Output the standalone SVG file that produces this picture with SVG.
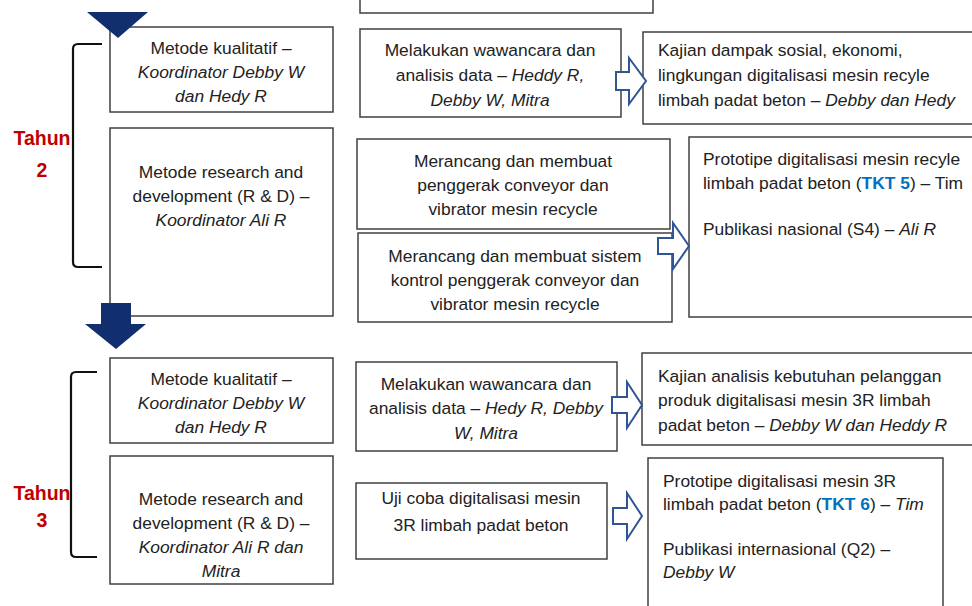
<svg xmlns="http://www.w3.org/2000/svg" width="972" height="606" viewBox="0 0 972 606">
<style>
.box{fill:#fff;stroke:#404040;stroke-width:1.5}
.t{font-family:"Liberation Sans",Arial,sans-serif;font-size:17.4px;fill:#222}
.c{text-anchor:middle}
.i{font-style:italic}
.yr{font-family:"Liberation Sans",Arial,sans-serif;font-size:19.5px;font-weight:bold;fill:#C00000;text-anchor:middle}
.tkt{font-weight:bold;fill:#0070C0}
.hollow{fill:#fff;stroke:#2F5597;stroke-width:2;stroke-linejoin:miter}
.solid{fill:#112F6F}
.br{fill:none;stroke:#111;stroke-width:2.2}
</style>
<rect width="972" height="606" fill="#fff"/>

<g id="top-box">
<path class="box" d="M360,-2 V13 H653 V-2" fill="none"/>
</g>

<g id="y2-kualitatif">
<rect class="box" x="110" y="27" width="223" height="85"/>
<text class="t c" x="221" y="54">Metode kualitatif –</text>
<text class="t c i" x="221" y="78">Koordinator Debby W</text>
<text class="t c i" x="221" y="102">dan Hedy R</text>
</g>

<g id="y2-rnd">
<rect class="box" x="110" y="128" width="223" height="188"/>
<text class="t c" x="221" y="178">Metode research and</text>
<text class="t c" x="221" y="202">development (R &amp; D) –</text>
<text class="t c i" x="221" y="226">Koordinator Ali R</text>
</g>

<g id="y2-wawancara">
<rect class="box" x="360" y="29" width="261" height="88"/>
<text class="t c" x="490" y="56">Melakukan wawancara dan</text>
<text class="t c" x="490" y="81">analisis data – <tspan class="i">Heddy R,</tspan></text>
<text class="t c i" x="490" y="106">Debby W, Mitra</text>
</g>

<g id="y2-kajian">
<rect class="box" x="643" y="32" width="350" height="92"/>
<text class="t" x="658" y="56">Kajian dampak sosial, ekonomi,</text>
<text class="t" x="658" y="81">lingkungan digitalisasi mesin recyle</text>
<text class="t" x="658" y="106">limbah padat beton – <tspan class="i">Debby dan Hedy</tspan></text>
</g>

<g id="y2-penggerak">
<rect class="box" x="357" y="139" width="313" height="90"/>
<text class="t c" x="513" y="167">Merancang dan membuat</text>
<text class="t c" x="513" y="191">penggerak conveyor dan</text>
<text class="t c" x="513" y="215">vibrator mesin recycle</text>
</g>

<g id="y2-kontrol">
<rect class="box" x="358" y="233" width="314" height="89"/>
<text class="t c" x="515" y="262">Merancang dan membuat sistem</text>
<text class="t c" x="515" y="286">kontrol penggerak conveyor dan</text>
<text class="t c" x="515" y="310">vibrator mesin recycle</text>
</g>

<g id="y2-prototipe">
<rect class="box" x="689" y="137" width="310" height="180"/>
<text class="t" x="703" y="165">Prototipe digitalisasi mesin recyle</text>
<text class="t" x="703" y="189">limbah padat beton (<tspan class="tkt">TKT 5</tspan>) – Tim</text>
<text class="t" x="703" y="235">Publikasi nasional (S4) – <tspan class="i">Ali R</tspan></text>
</g>

<g id="y3-kualitatif">
<rect class="box" x="110" y="358" width="223" height="85"/>
<text class="t c" x="221" y="385">Metode kualitatif –</text>
<text class="t c i" x="221" y="409">Koordinator Debby W</text>
<text class="t c i" x="221" y="433">dan Hedy R</text>
</g>

<g id="y3-rnd">
<rect class="box" x="110" y="456" width="223" height="128"/>
<text class="t c" x="221" y="505">Metode research and</text>
<text class="t c" x="221" y="529">development (R &amp; D) –</text>
<text class="t c i" x="221" y="553">Koordinator Ali R dan</text>
<text class="t c i" x="221" y="577">Mitra</text>
</g>

<g id="y3-wawancara">
<rect class="box" x="356" y="362" width="261" height="89"/>
<text class="t c" x="486" y="390">Melakukan wawancara dan</text>
<text class="t c" x="486" y="414">analisis data – <tspan class="i">Hedy R, Debby</tspan></text>
<text class="t c i" x="486" y="439">W, Mitra</text>
</g>

<g id="y3-kajian">
<rect class="box" x="642" y="353" width="350" height="92"/>
<text class="t" x="658" y="382">Kajian analisis kebutuhan pelanggan</text>
<text class="t" x="658" y="406">produk digitalisasi mesin 3R limbah</text>
<text class="t" x="658" y="431">padat beton – <tspan class="i">Debby W dan Heddy R</tspan></text>
</g>

<g id="y3-ujicoba">
<rect class="box" x="356" y="483" width="251" height="76"/>
<text class="t c" x="481" y="504">Uji coba digitalisasi mesin</text>
<text class="t c" x="481" y="531">3R limbah padat beton</text>
</g>

<g id="y3-prototipe">
<rect class="box" x="648" y="458" width="295" height="170"/>
<text class="t" x="663" y="487">Prototipe digitalisasi mesin 3R</text>
<text class="t" x="663" y="510">limbah padat beton (<tspan class="tkt">TKT 6</tspan>) – <tspan class="i">Tim</tspan></text>
<text class="t" x="663" y="555">Publikasi internasional (Q2) –</text>
<text class="t i" x="663" y="578">Debby W</text>
</g>

<g id="labels">
<text class="yr" x="42" y="145">Tahun</text>
<text class="yr" x="42" y="177">2</text>
<text class="yr" x="42" y="500">Tahun</text>
<text class="yr" x="42" y="527">3</text>
</g>

<g id="brackets">
<path class="br" d="M102,44 H78 Q73,44 73,49 V262 Q73,267 78,267 H102"/>
<path class="br" d="M97,372 H76 Q71,372 71,377 V552 Q71,557 76,557 H97"/>
</g>

<g id="connectors">
<path class="solid" d="M87,12 H148 L118,38 Z"/>
<path class="solid" d="M101,303 H131 V324 H146 L116,349 L85,324 H101 Z"/>
<path class="hollow" d="M616,72 H629 V58 L646,81 L629,104 V90 H616 Z"/>
<path class="hollow" d="M658,238 H673 V223 L689,246 L673,269 V254 H658 Z"/>
<path class="hollow" d="M612,397 H627 V382 L642,405 L627,428 V413 H612 Z"/>
<path class="hollow" d="M613,508 H627 V493 L642,516 L627,539 V524 H613 Z"/>
</g>
</svg>
